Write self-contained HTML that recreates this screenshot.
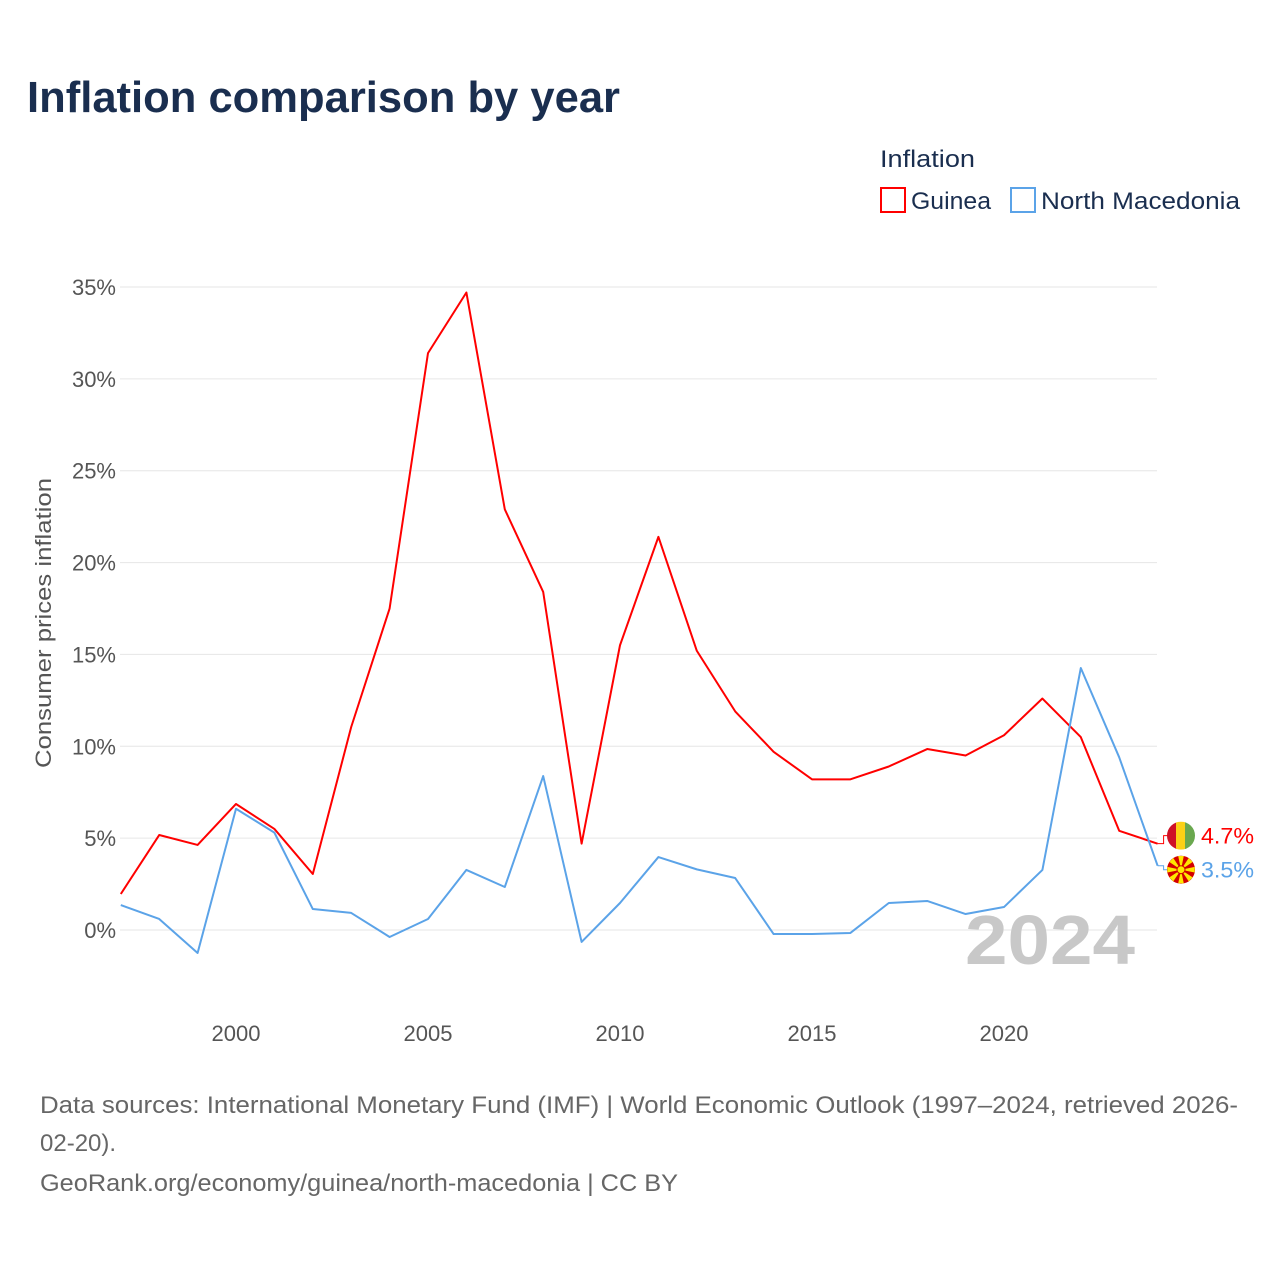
<!DOCTYPE html>
<html><head><meta charset="utf-8"><style>
body{margin:0;width:1280px;height:1280px;background:#fff;font-family:"Liberation Sans",sans-serif;overflow:hidden}
</style></head><body>
<svg id="chart" width="1280" height="1280" xmlns="http://www.w3.org/2000/svg">
<text x="27" y="112" font-size="44" font-weight="bold" fill="#1a2e4f" textLength="593" lengthAdjust="spacingAndGlyphs">Inflation comparison by year</text>
<text x="880" y="167" font-size="24" fill="#1a2e4f" textLength="95" lengthAdjust="spacingAndGlyphs">Inflation</text>
<g><rect x="881" y="188" width="24" height="24" fill="#fff" stroke="#f00" stroke-width="2"/><text x="911" y="209" font-size="24" fill="#1a2e4f" textLength="80" lengthAdjust="spacingAndGlyphs">Guinea</text></g>
<g><rect x="1011" y="188" width="24" height="24" fill="#fff" stroke="#5ba3e8" stroke-width="2"/><text x="1041" y="209" font-size="24" fill="#1a2e4f" textLength="199" lengthAdjust="spacingAndGlyphs">North Macedonia</text></g>
<text transform="translate(51,623) rotate(-90)" text-anchor="middle" font-size="22" fill="#555" textLength="290" lengthAdjust="spacingAndGlyphs">Consumer prices inflation</text>
<g id="grid"></g><g id="yt"></g><g id="xt"></g>
<text x="965" y="964" font-size="70" font-weight="bold" fill="#c8c8c8" textLength="170" lengthAdjust="spacingAndGlyphs">2024</text>
<g id="lines"></g>
<text x="40" y="1113" font-size="24" fill="#666" textLength="1198" lengthAdjust="spacingAndGlyphs">Data sources: International Monetary Fund (IMF) | World Economic Outlook (1997–2024, retrieved 2026-</text>
<text x="40" y="1151" font-size="24" fill="#666">02-20).</text>
<text x="40" y="1191" font-size="24" fill="#666" textLength="638" lengthAdjust="spacingAndGlyphs">GeoRank.org/economy/guinea/north-macedonia | CC BY</text>
</svg>
<script>
const years=[1997,1998,1999,2000,2001,2002,2003,2004,2005,2006,2007,2008,2009,2010,2011,2012,2013,2014,2015,2016,2017,2018,2019,2020,2021,2022,2023,2024];
const guinea=[1.96,5.17,4.63,6.86,5.5,3.05,11.05,17.5,31.4,34.7,22.9,18.4,4.7,15.5,21.4,15.2,11.9,9.7,8.2,8.2,8.9,9.85,9.5,10.6,12.6,10.5,5.4,4.7];
const macedonia=[1.36,0.6,-1.25,6.6,5.3,1.14,0.93,-0.38,0.6,3.27,2.34,8.38,-0.65,1.47,3.97,3.3,2.83,-0.22,-0.22,-0.16,1.47,1.58,0.87,1.25,3.27,14.26,9.4,3.5];
const yTicks=[0,5,10,15,20,25,30,35];
const xTicks=[2000,2005,2010,2015,2020];
const NS="http://www.w3.org/2000/svg";
const X=y=>236+(y-2000)*38.4;
const Y=v=>930-v*18.371;
function mk(t,a,p){const e=document.createElementNS(NS,t);for(const k in a)e.setAttribute(k,a[k]);p.appendChild(e);return e;}
const grid=document.getElementById('grid'),yt=document.getElementById('yt'),xt=document.getElementById('xt'),lines=document.getElementById('lines');
yTicks.forEach(v=>{
 const l=mk('line',{x1:120,x2:1157,y1:Y(v),y2:Y(v),stroke:'#e6e6e6','stroke-width':1},grid);
 
 
 const t=mk('text',{x:116,y:Y(v)+8,'text-anchor':'end','font-size':22,fill:'#555'},yt);t.textContent=v+'%';
 
 
});
xTicks.forEach(v=>{
 const t=mk('text',{x:X(v),y:1041,'text-anchor':'middle','font-size':22,fill:'#555'},xt);t.textContent=v;
 
 
});
function series(d,c,name){
 const p=mk('polyline',{points:d.map((v,i)=>X(years[i])+','+Y(v)).join(' '),fill:'none',stroke:c,'stroke-width':2,'stroke-linejoin':'round'},lines);
 
 
}
series(guinea,'#f00','guinea-line');
series(macedonia,'#5ba3e8','north-macedonia-line');
const last=years.length-1;
const gy=Y(guinea[last]),my=Y(macedonia[last]),lx=X(years[last]);
const gl=mk('polyline',{points:`${lx},${gy} ${lx+6},${gy} ${lx+6},${gy-8} ${lx+10},${gy-8}`,fill:'none',stroke:'#f00','stroke-width':1},lines);


const ml=mk('polyline',{points:`${lx},${my} ${lx+6},${my} ${lx+6},${my+4} ${lx+10},${my+4}`,fill:'none',stroke:'#5ba3e8','stroke-width':1},lines);


const fg=mk('g',{},lines);


mk('clipPath',{id:'cg'},fg).appendChild(document.createElementNS(NS,'circle'));
const cgc=fg.querySelector('circle');cgc.setAttribute('cx',1181);cgc.setAttribute('cy',gy-8);cgc.setAttribute('r',14);
mk('rect',{x:1167,y:gy-22,width:10,height:28,fill:'#ce1126','clip-path':'url(#cg)'},fg);
mk('rect',{x:1176,y:gy-22,width:10,height:28,fill:'#fcd116','clip-path':'url(#cg)'},fg);
mk('rect',{x:1185,y:gy-22,width:10,height:28,fill:'#6aa84f','clip-path':'url(#cg)'},fg);
const gt=mk('text',{x:1201,y:gy,'font-size':22,fill:'#f00',textLength:53,lengthAdjust:'spacingAndGlyphs'},lines);gt.textContent=guinea[last].toFixed(1)+'%';


const mf=mk('g',{},lines);


const cy=my+4;
mk('circle',{cx:1181,cy:cy,r:14,fill:'#d20000'},mf);
for(let a=0;a<8;a++){const r=a*Math.PI/4;mk('polygon',{points:`1181,${cy} ${1181+14*Math.cos(r-0.2)},${cy+14*Math.sin(r-0.2)} ${1181+14*Math.cos(r+0.2)},${cy+14*Math.sin(r+0.2)}`,fill:'#ffe600'},mf);}
mk('circle',{cx:1181,cy:cy,r:4,fill:'#ffe600',stroke:'#d20000','stroke-width':1},mf);
const mt=mk('text',{x:1201,y:my+12,'font-size':22,fill:'#5ba3e8',textLength:53,lengthAdjust:'spacingAndGlyphs'},lines);mt.textContent=macedonia[last].toFixed(1)+'%';


</script>
</body></html>
